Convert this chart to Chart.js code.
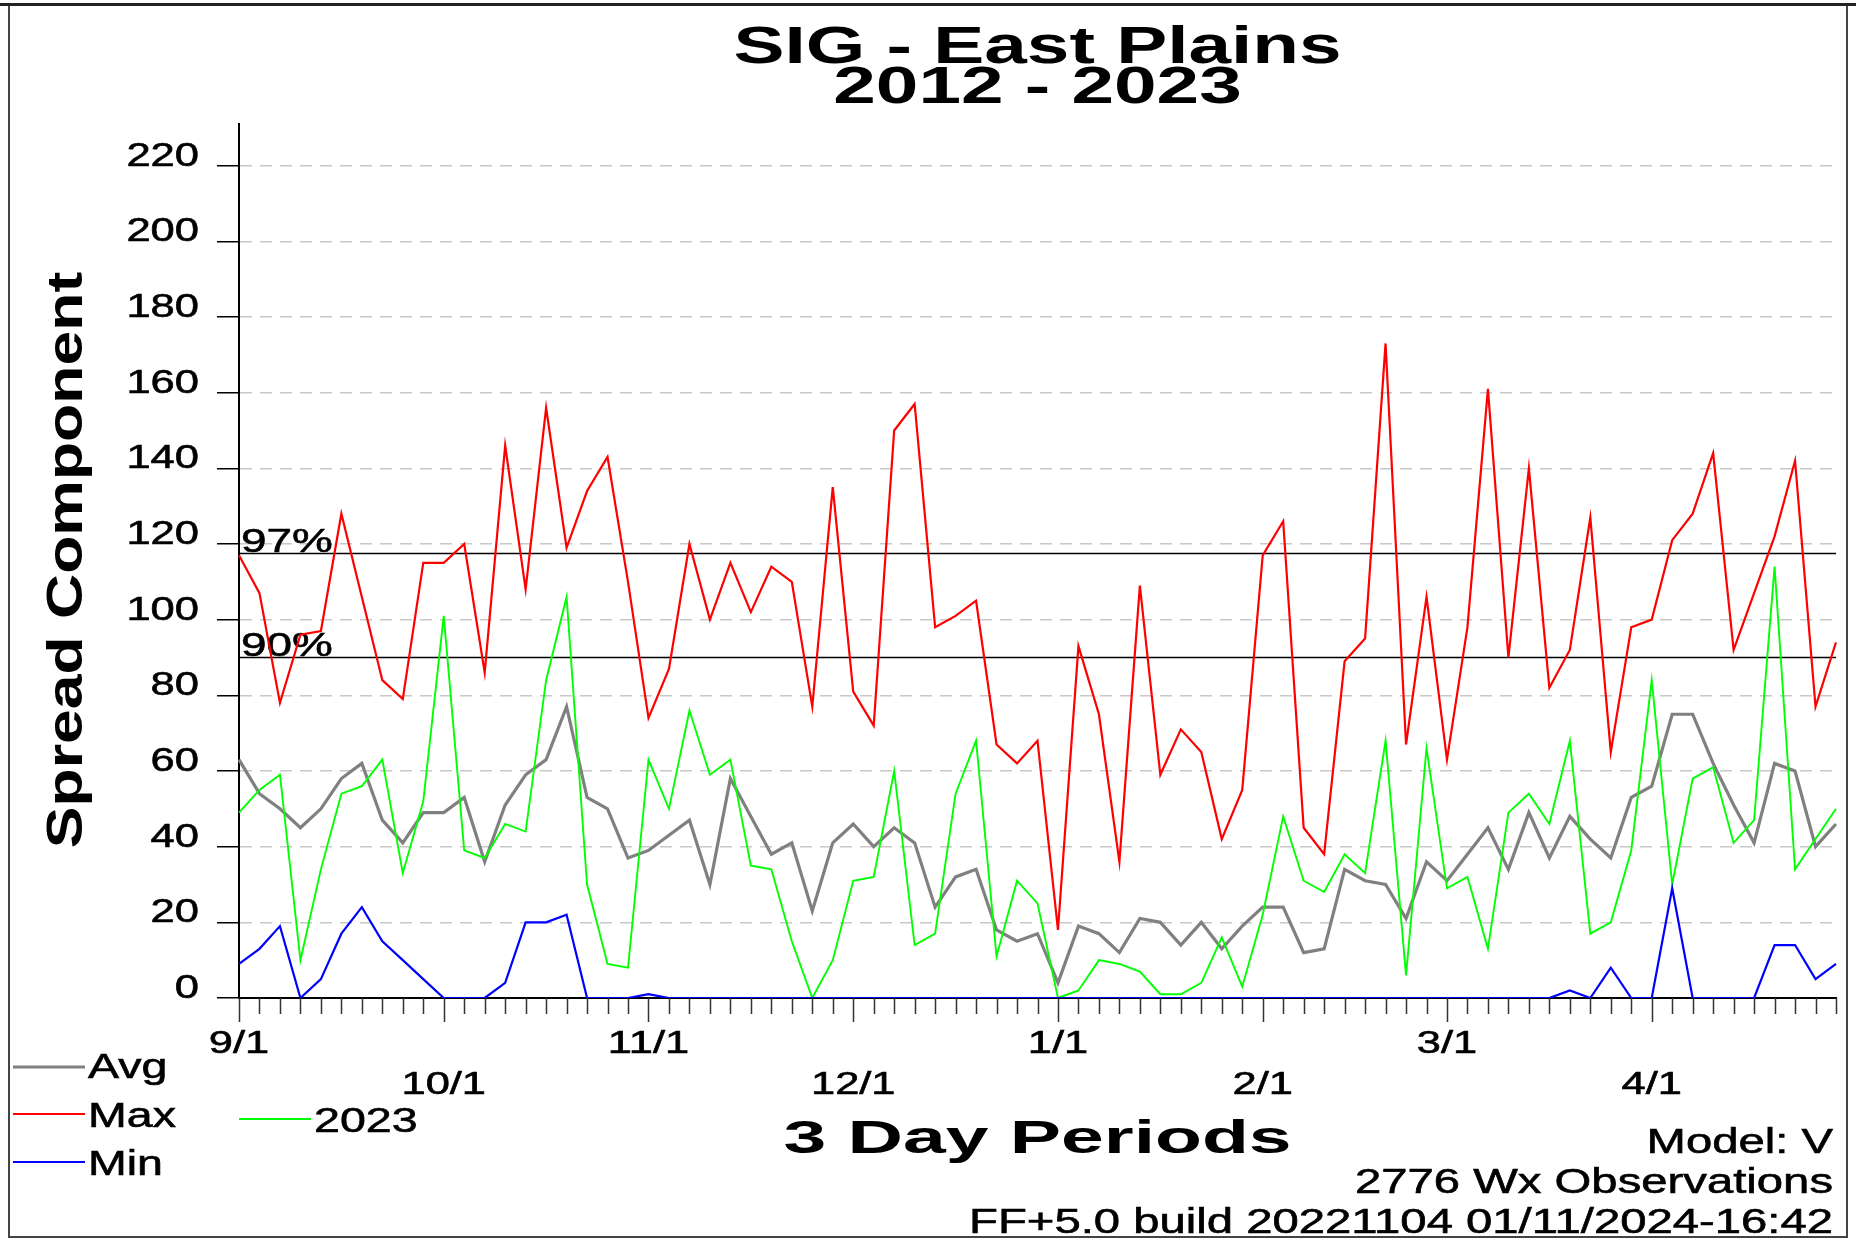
<!DOCTYPE html>
<html lang="en">
<head>
    <meta charset="UTF-8">
    <title>SIG - East Plains</title>
    <script src="https://cdn.jsdelivr.net/npm/chart.js"></script>
    <style>
        body {
            margin: 0;
            background: #fff;
        }
        .chart-wrapper {
            position: relative;
            width: 1856px;
            height: 1239px;
        }
    </style>
</head>
<body>
    <div class="chart-wrapper">
        <canvas id="scChart"></canvas>
    </div>

    <script>
        // Spread Component per 3 day period, 9/1 .. end of April
        const maxValues = [
            117, 107, 78, 96, 97, 128, 106, 84, 79, 115,
            115, 120, 86, 146, 108, 156, 119, 134, 143, 110,
            74, 87, 120, 100, 115, 102, 114, 110, 77, 135,
            81, 72, 150, 157, 98, 101, 105, 67, 62, 68,
            18, 93, 75, 36, 109, 59, 71, 65, 42, 55,
            117, 126, 45, 38, 89, 95, 173, 67, 106, 63,
            98, 161, 90, 140, 82, 92, 127, 65, 98, 100,
            121, 128, 144, 92, 107, 122, 142, 77, 94
        ];
        const avgValues = [
            63, 54, 50, 45, 50, 58, 62, 47, 41, 49,
            49, 53, 36, 51, 59, 63, 77, 53, 50, 37,
            39, 43, 47, 30, 58, 48, 38, 41, 23, 41,
            46, 40, 45, 41, 24, 32, 34, 18, 15, 17,
            4, 19, 17, 12, 21, 20, 14, 20, 13, 19,
            24, 24, 12, 13, 34, 31, 30, 21, 36, 31,
            38, 45, 34, 49, 37, 48, 42, 37, 53, 56,
            75, 75, 62, 51, 41, 62, 60, 40, 46
        ];
        const minValues = [
            9, 13, 19, 0, 5, 17, 24, 15, 10, 5,
            0, 0, 0, 4, 20, 20, 22, 0, 0, 0,
            1, 0, 0, 0, 0, 0, 0, 0, 0, 0,
            0, 0, 0, 0, 0, 0, 0, 0, 0, 0,
            0, 0, 0, 0, 0, 0, 0, 0, 0, 0,
            0, 0, 0, 0, 0, 0, 0, 0, 0, 0,
            0, 0, 0, 0, 0, 2, 0, 8, 0, 0,
            29, 0, 0, 0, 0, 14, 14, 5, 9
        ];
        const values2023 = [
            49, 55, 59, 10, 34, 54, 56, 63, 33, 52,
            101, 39, 37, 46, 44, 84, 106, 30, 9, 8,
            63, 50, 76, 59, 63, 35, 34, 15, 0, 10,
            31, 32, 60, 14, 17, 54, 68, 11, 31, 25,
            0, 2, 10, 9, 7, 1, 1, 4, 16, 3,
            22, 48, 31, 28, 38, 33, 68, 6, 66, 29,
            32, 13, 49, 54, 46, 68, 17, 20, 39, 84,
            30, 58, 61, 41, 47, 114, 34, 42, 50
        ];

        // month labels and the period each one sits on
        const monthLabels = ['9/1', '10/1', '11/1', '12/1', '1/1', '2/1', '3/1', '4/1'];
        const monthPeriods = [0, 10, 20, 30, 40, 50, 59, 69];

        const pctLines = [
            { label: '97%', value: 117.5 },
            { label: '90%', value: 90 }
        ];

        const footLines = ['Model: V', '2776 Wx Observations', 'FF+5.0 build 20221104 01/11/2024-16:42'];

        // period start dates used as category names
        const periods = [];
        for (let i = 0; i < maxValues.length; i++) {
            const d = new Date(2023, 8, 1 + 3 * i);
            periods.push((d.getMonth() + 1) + '/' + d.getDate());
        }

        const FONT = '"Liberation Sans", Arial, sans-serif';

        // the original uses wide, horizontally stretched lettering
        function drawText(ctx, text, x, y, size, bold, sx, align, rotate) {
            ctx.save();
            ctx.translate(x, y);
            if (rotate) ctx.rotate(-Math.PI / 2);
            ctx.scale(sx, 1);
            ctx.font = (bold ? 'bold ' : '') + size + 'px ' + FONT;
            ctx.textAlign = align || 'left';
            ctx.textBaseline = 'alphabetic';
            ctx.fillStyle = '#000';
            ctx.fillText(text, 0, 0);
            if (!bold) {
                // a little heavier, like the GDI rendering
                ctx.strokeStyle = '#000';
                ctx.lineWidth = 0.6;
                ctx.strokeText(text, 0, 0);
            }
            ctx.restore();
        }

        function line(ctx, x1, y1, x2, y2, color, width) {
            ctx.save();
            ctx.strokeStyle = color;
            ctx.lineWidth = width;
            ctx.beginPath();
            ctx.moveTo(x1, y1);
            ctx.lineTo(x2, y2);
            ctx.stroke();
            ctx.restore();
        }

        const decorPlugin = {
            id: 'decor',
            beforeDatasetsDraw(chart) {
                const { ctx, chartArea, scales: { y } } = chart;
                pctLines.forEach(p => {
                    const py = Math.round(y.getPixelForValue(p.value)) + 0.5;
                    line(ctx, chartArea.left, py, chartArea.right, py, '#000', 1.5);
                    drawText(ctx, p.label, chartArea.left + 2, py - 2, 34, false, 1.35, 'left');
                });
            },
            afterDraw(chart) {
                const { ctx, chartArea, scales: { x, y } } = chart;

                // y tick labels sit on their tick
                y.ticks.forEach(t => {
                    drawText(ctx, String(t.value), 199, y.getPixelForValue(t.value), 34, false, 1.28, 'right');
                });

                // x tick marks, longer at month starts
                for (let i = 0; i < periods.length; i++) {
                    const px = Math.round(x.getPixelForValue(i)) + 0.5;
                    const len = monthPeriods.includes(i) ? 24 : 16;
                    line(ctx, px, chartArea.bottom, px, chartArea.bottom + len, '#333', 1.5);
                }
                monthPeriods.forEach((idx, k) => {
                    const baseY = k % 2 === 0 ? 1053 : 1094;
                    drawText(ctx, monthLabels[k], x.getPixelForValue(idx), baseY, 31, false, 1.4, 'center');
                });

                // titles
                const cx = (chartArea.left + chartArea.right) / 2;
                drawText(ctx, 'SIG - East Plains', cx, 63, 51, true, 1.5, 'center');
                drawText(ctx, '2012 - 2023', cx, 103, 51, true, 1.5, 'center');
                drawText(ctx, '3 Day Periods', cx, 1153, 46, true, 1.67, 'center');
                drawText(ctx, 'Spread Component', 82, 560, 50, true, 1.25, 'center', true);

                // legend
                const legend = [
                    { label: 'Avg', color: '#808080', width: 3, x: 13, y: 1067, base: 1078 },
                    { label: 'Max', color: '#ff0000', width: 2, x: 13, y: 1114, base: 1127 },
                    { label: 'Min', color: '#0000ff', width: 2, x: 13, y: 1162, base: 1175 },
                    { label: '2023', color: '#00ff00', width: 2, x: 239, y: 1119, base: 1132 }
                ];
                legend.forEach(l => {
                    line(ctx, l.x, l.y, l.x + 72, l.y, l.color, l.width);
                    drawText(ctx, l.label, l.x + 75, l.base, 35, false, 1.33, 'left');
                });

                // footnotes
                footLines.forEach((t, i) => {
                    drawText(ctx, t, 1833, 1153 + i * 40, 35, false, 1.35, 'right');
                });

                // frame
                ctx.save();
                ctx.strokeStyle = '#444';
                ctx.lineWidth = 2;
                ctx.strokeRect(9, 5, 1838, 1232);
                ctx.fillStyle = '#222';
                ctx.fillRect(0, 3, 1856, 3);
                ctx.restore();
            }
        };

        const lineStyle = { pointRadius: 0, tension: 0, fill: false };

        new Chart(document.getElementById('scChart'), {
            type: 'line',
            data: {
                labels: periods,
                datasets: [
                    { label: 'Avg', data: avgValues, borderColor: '#808080', borderWidth: 3.2, order: 3, ...lineStyle },
                    { label: 'Max', data: maxValues, borderColor: '#ff0000', borderWidth: 2.2, order: 2, ...lineStyle },
                    { label: '2023', data: values2023, borderColor: '#00ff00', borderWidth: 1.9, order: 1, ...lineStyle },
                    { label: 'Min', data: minValues, borderColor: '#0000ff', borderWidth: 2.2, order: 0, ...lineStyle }
                ]
            },
            options: {
                responsive: true,
                maintainAspectRatio: false,
                animation: false,
                layout: {
                    padding: { left: 0, right: 20, top: 124, bottom: 0 }
                },
                plugins: {
                    legend: { display: false },
                    title: { display: false },
                    tooltip: { enabled: false }
                },
                scales: {
                    x: {
                        type: 'category',
                        offset: false,
                        ticks: { display: false },
                        grid: { display: false },
                        border: { display: true, color: '#000', width: 2 },
                        afterFit: scale => { scale.height = 241; }
                    },
                    y: {
                        min: 0,
                        max: 231,
                        ticks: { display: false, stepSize: 20 },
                        afterBuildTicks: scale => {
                            scale.ticks = scale.ticks.filter(t => t.value % 20 === 0);
                        },
                        grid: {
                            color: c => (c.tick && c.tick.value === 0) ? 'rgba(0,0,0,0)' : '#c8c8c8',
                            lineWidth: 1.5,
                            tickLength: 22,
                            tickColor: '#000',
                            tickWidth: 1.5,
                            tickBorderDash: []
                        },
                        border: { display: true, color: '#000', width: 2, dash: [12, 8] },
                        afterFit: scale => { scale.width = 239; }
                    }
                }
            },
            plugins: [decorPlugin]
        });
    </script>
</body>
</html>
